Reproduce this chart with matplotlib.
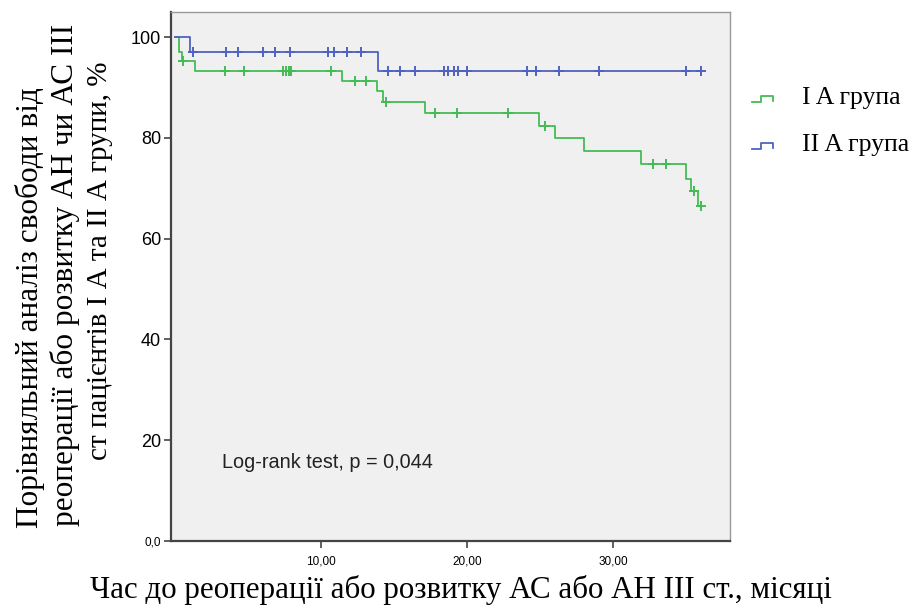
import numpy as np
import matplotlib.pyplot as plt
from matplotlib.lines import Line2D

# Kaplan-Meier steps (months, % free of event)
g1_times = [0, 0.3, 0.5, 1.35, 11.4, 13.8, 14.2, 17.1, 24.9, 26.0, 28.0, 31.9, 35.0, 35.3, 35.8, 36.0]
g1_surv = [100, 97.0, 95.3, 93.3, 91.3, 89.4, 87.1, 85.0, 82.4, 79.9, 77.3, 74.9, 71.9, 69.4, 66.4, 66.4]
g1_cens = [0.57, 3.4, 4.7, 7.4, 7.6, 7.8, 7.95, 10.7, 12.3, 13.1, 14.45, 17.8, 19.3,
           22.8, 25.3, 32.7, 33.6, 35.5, 36.0]

g2_times = [0, 1.0, 13.9, 36.0]
g2_surv = [100, 97.1, 93.3, 93.3]
g2_cens = [1.2, 3.5, 4.3, 6.0, 6.85, 7.9, 10.5, 10.85, 11.8, 12.7, 14.6, 15.4, 16.4,
           18.4, 18.7, 19.1, 19.4, 20.0, 24.1, 24.7, 26.3, 29.0, 35.0, 36.0]

labels = ['I A група', 'II A група']
colors = ['#45bb55', '#5062c0']

y_ticks = [0, 20, 40, 60, 80, 100]
y_labels = ['0,0', '20', '40', '60', '80', '100']
x_ticks = [10, 20, 30]
x_labels = ['10,00', '20,00', '30,00']

ylab_lines = ['Порівняльний аналіз свободи від',
              'реоперації або розвитку АН чи АС ІІІ',
              'ст пацієнтів І А та ІІ А групи, %']
xlab = 'Час до реоперації або розвитку АС або АН ІІІ ст., місяці'


def surv_at(times, surv, t):
    i = np.searchsorted(times, t, side='right') - 1
    return np.array(surv)[i]


fig = plt.figure(figsize=(9.14, 6.07), dpi=100)
ax = fig.add_axes([0.1868, 0.1092, 0.612, 0.871])
ax.set_facecolor('#f0f0f0')

for times, surv, cens, c in [(g1_times, g1_surv, g1_cens, colors[0]),
                             (g2_times, g2_surv, g2_cens, colors[1])]:
    ax.step(times, surv, where='post', color=c, lw=1.3)
    ax.plot(cens, surv_at(times, surv, cens), '+', color=c, ms=7, mew=1.4)

ax.set_xlim(-0.3, 38)
ax.set_ylim(0, 105)
ax.set_xticks(x_ticks)
ax.set_xticklabels(x_labels, fontsize=8.5, family='Liberation Sans')
ax.set_yticks(y_ticks)
ax.set_yticklabels(y_labels, fontsize=13, family='Liberation Sans')
ax.get_yticklabels()[0].set_fontsize(8.5)
ax.tick_params(axis='both', direction='out', length=5, width=1.2, color='#444444', pad=2)
ax.tick_params(axis='x', pad=6)

for s in ['left', 'bottom']:
    ax.spines[s].set_color('#444444')
    ax.spines[s].set_linewidth(1.6)
for s in ['top', 'right']:
    ax.spines[s].set_color('#999999')
    ax.spines[s].set_linewidth(1.0)

ax.text(3.2, 15.5, 'Log-rank test, p = 0,044', fontsize=14.3, family='Liberation Sans',
        va='center', ha='left', color='#222222')

# y label as three rotated lines
for txt, xx, yy, fs in zip(ylab_lines, [0.0328, 0.0711, 0.1094], [0.4926, 0.547, 0.57], [22.5, 22.5, 21]):
    fig.text(xx, yy, txt, rotation=90, fontsize=fs, family='Liberation Serif',
             ha='center', va='center')

fig.text(0.504, 0.028, xlab, fontsize=22.3, family='Liberation Serif', ha='center', va='center')

# legend outside the axes: small step icons + text
for k, (lab, c) in enumerate(zip(labels, colors)):
    yy = 1 - (98 + k * 47) / 607
    xs = np.array([0.823, 0.833, 0.833, 0.846, 0.846])
    ys = yy + np.array([-0.007, -0.007, 0.004, 0.004, -0.005])
    fig.add_artist(Line2D(xs, ys, color=c, lw=1.3, transform=fig.transFigure))
    fig.text(0.878, yy, lab, fontsize=18.5, family='Liberation Serif', va='center', ha='left')

fig.savefig('out.png', dpi=100)
